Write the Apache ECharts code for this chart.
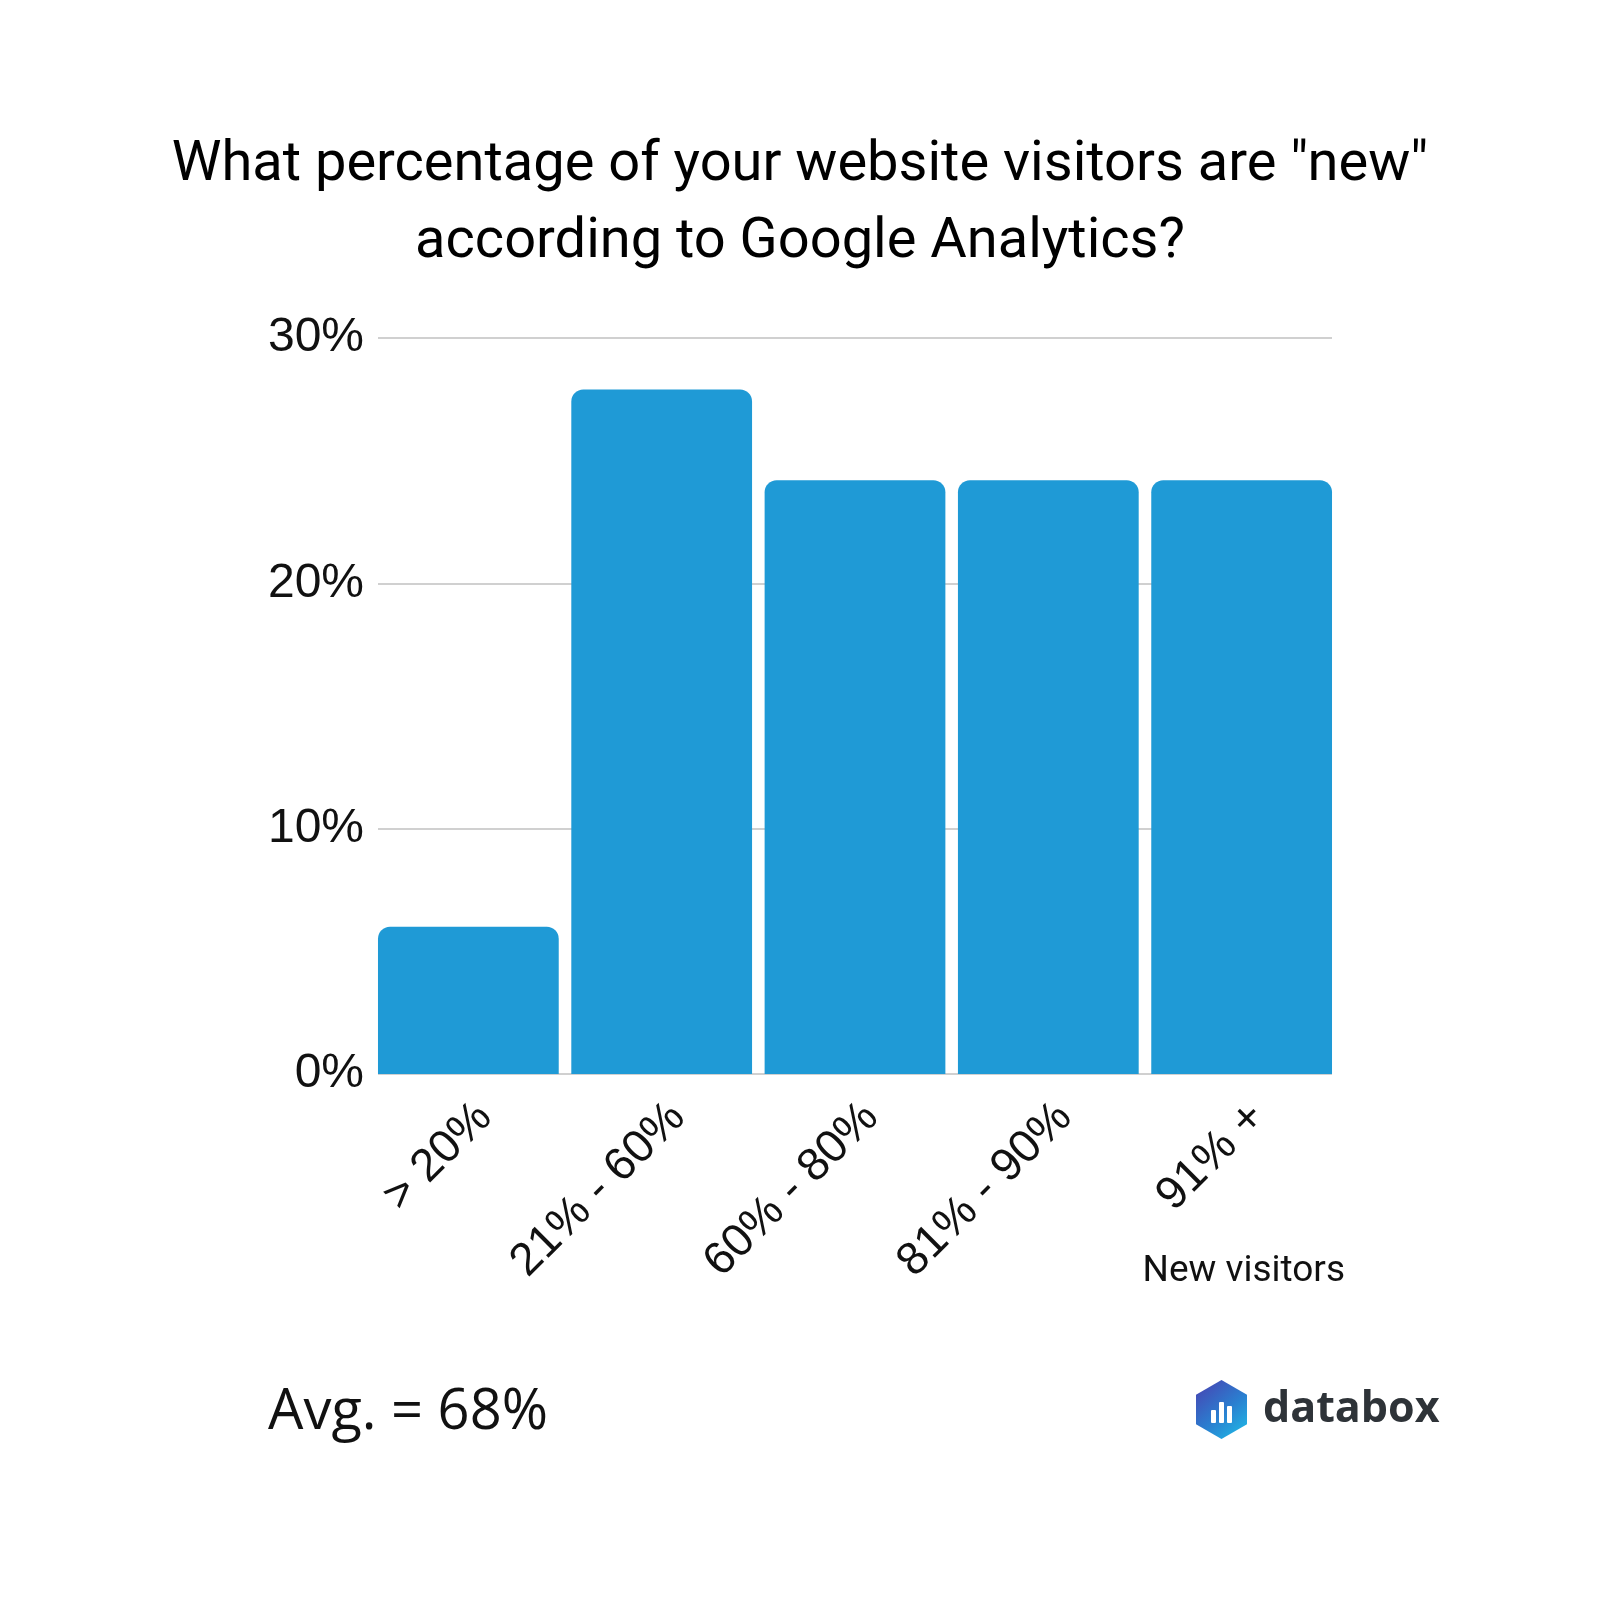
<!DOCTYPE html>
<html>
<head>
<meta charset="utf-8">
<script src="https://cdn.jsdelivr.net/npm/echarts@6/dist/echarts.min.js"></script>
<style>
  html, body { margin: 0; padding: 0; background: #ffffff; }
  #chart { width: 1600px; height: 1600px; }
</style>
</head>
<body>
<div id="chart"></div>
<script>
const categories = ['> 20%', '21% - 60%', '60% - 80%', '81% - 90%', '91% +'];
const values = [6.0, 27.9, 24.2, 24.2, 24.2];
const yTicks = [0, 10, 20, 30];
const titleLines = ['What percentage of your website visitors are "new"', 'according to Google Analytics?'];
const axisName = 'New visitors';
const avgText = 'Avg. = 68%';
const brandText = 'databox';

const chart = echarts.init(document.getElementById('chart'), null, { renderer: 'canvas' });

const BAR = '#1f9ad6';
const yMin = yTicks[0], yMax = yTicks[yTicks.length - 1], yStep = yTicks[1] - yTicks[0];

const option = {
  backgroundColor: '#ffffff',
  animation: false,
  title: [
    {
      text: titleLines.join('\n'),
      left: 'center',
      top: 122,
      textStyle: { fontFamily: 'Roboto', fontSize: 56, fontWeight: 'normal', color: '#000000', lineHeight: 77 }
    },
    {
      text: avgText,
      left: 263,
      top: 1380,
      textStyle: { fontFamily: 'Open Sans', fontSize: 56, fontWeight: 'normal', color: '#111111' }
    },
    {
      text: axisName,
      right: 250,
      top: 1248,
      textStyle: { fontFamily: 'Roboto', fontSize: 37, fontWeight: 'normal', color: '#111111' }
    }
  ],
  grid: [
    { left: 378, right: 268, top: 338, bottom: 526 },
    { left: 371.7, right: 261.7, top: 338, bottom: 526 }
  ],
  xAxis: [
    {
      gridIndex: 0, type: 'category', data: categories,
      axisLine: { show: false }, axisTick: { show: false }, axisLabel: { show: false }, splitLine: { show: false }
    },
    {
      gridIndex: 1, type: 'category', data: categories,
      axisLine: { show: false }, axisTick: { show: false },
      axisLabel: {
        show: true, rotate: 45, margin: 20, interval: 0, verticalAlign: 'top',
        fontFamily: 'Liberation Sans', fontSize: 46, color: '#111111'
      },
      splitLine: { show: false }
    }
  ],
  yAxis: [
    {
      gridIndex: 0, type: 'value', min: yMin, max: yMax, interval: yStep,
      axisLine: { show: false }, axisTick: { show: false },
      axisLabel: { formatter: '{value}%', margin: 14, padding: [6, 0, 0, 0], fontFamily: 'Liberation Sans', fontSize: 48, color: '#111111' },
      splitLine: { show: true, lineStyle: { color: '#d0d0d0', width: 2 } }
    },
    {
      gridIndex: 1, type: 'value', min: yMin, max: yMax, interval: yStep,
      axisLine: { show: false }, axisTick: { show: false }, axisLabel: { show: false }, splitLine: { show: false }
    }
  ],
  series: [
    {
      type: 'bar', xAxisIndex: 1, yAxisIndex: 1,
      data: values,
      barCategoryGap: '6.5%',
      itemStyle: { color: BAR, borderRadius: [12, 12, 0, 0] }
    }
  ],
  graphic: [
    {
      type: 'group', left: 1196, top: 1380,
      children: [
        {
          type: 'polygon',
          shape: { points: [[25.5, 0], [51, 14.7], [51, 44.3], [25.5, 59], [0, 44.3], [0, 14.7]] },
          style: {
            fill: new echarts.graphic.LinearGradient(0, 0, 1, 1, [
              { offset: 0, color: '#4a3fb0' },
              { offset: 0.55, color: '#2a7fd0' },
              { offset: 1, color: '#1ec0e8' }
            ])
          }
        },
        { type: 'rect', shape: { x: 15, y: 30, width: 5, height: 13, r: 1 }, style: { fill: '#ffffff' } },
        { type: 'rect', shape: { x: 23, y: 22, width: 5, height: 21, r: 1 }, style: { fill: '#ffffff' } },
        { type: 'rect', shape: { x: 31, y: 26, width: 5, height: 17, r: 1 }, style: { fill: '#ffffff' } }
      ]
    },
    {
      type: 'text', left: 1263, top: 1388,
      style: { text: brandText, fontFamily: 'Open Sans', fontWeight: 'bold', fontSize: 43, fill: '#2e3338' }
    }
  ]
};
chart.setOption(option);
</script>
</body>
</html>
